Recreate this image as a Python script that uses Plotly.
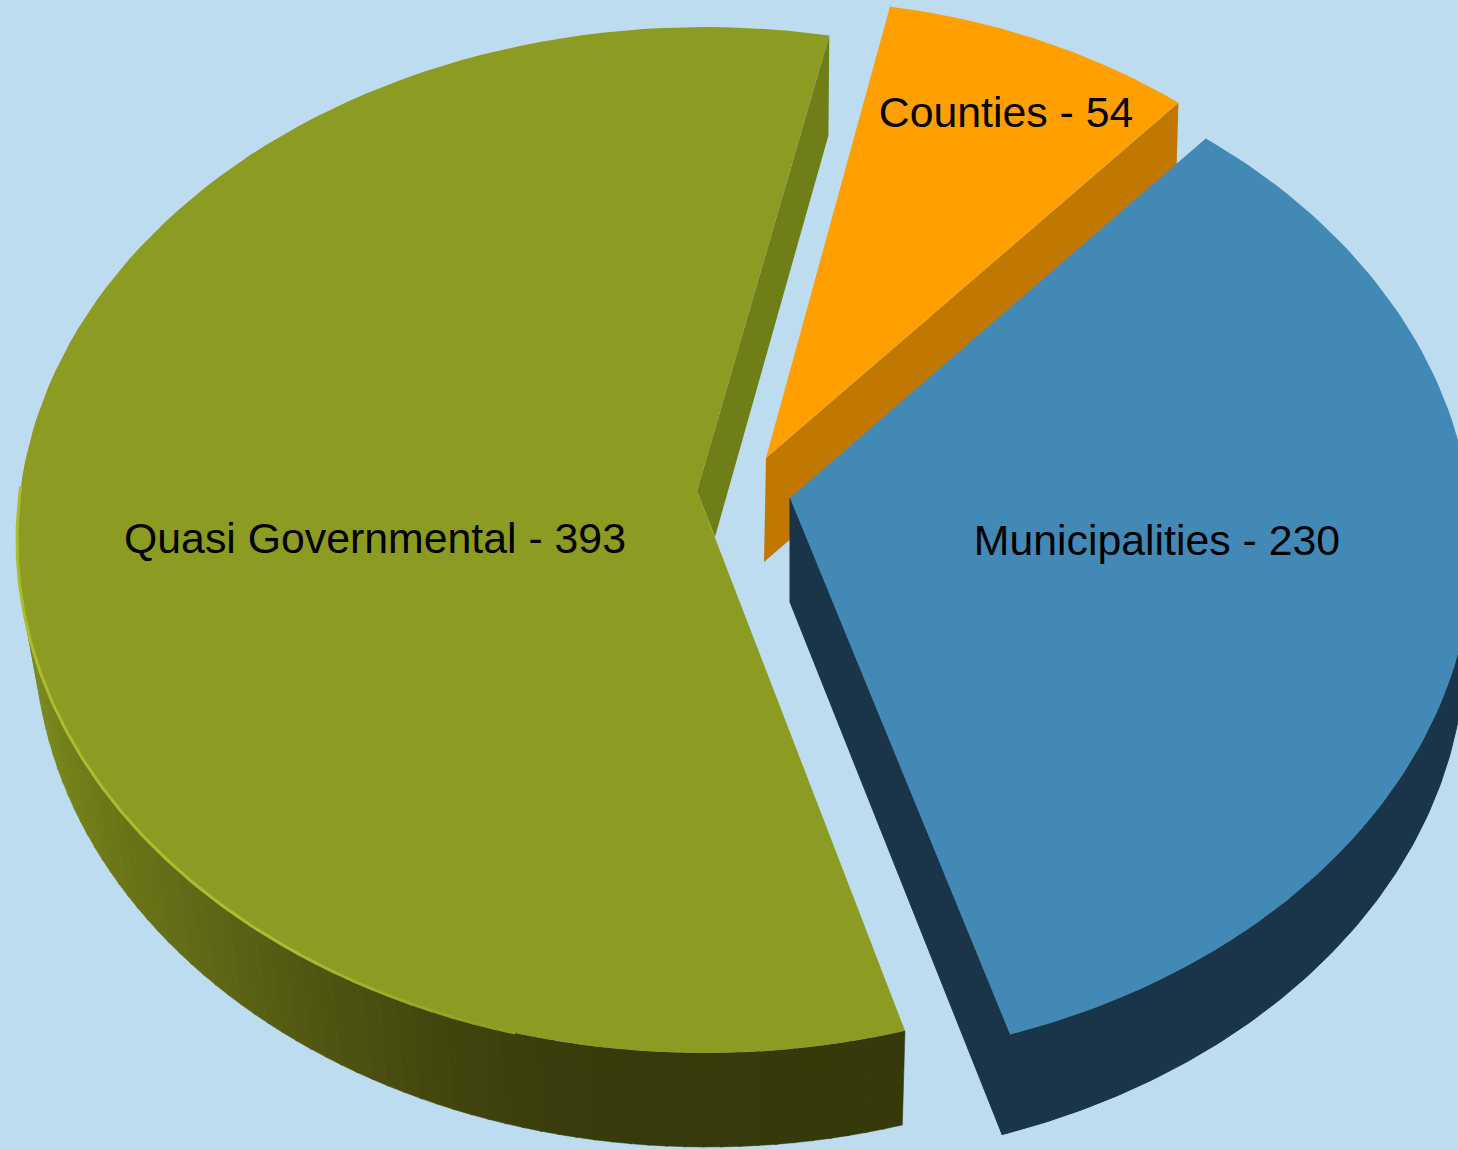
import math
import plotly.graph_objects as go

# ---- data ----
categories = ["Counties", "Municipalities", "Quasi Governmental"]
values = [54, 230, 393]

# ---- styling / projected geometry of each exploded slice ----
BG = "#bedcef"
TOP = ["#ffa000", "#4289b5", "#8c9b22"]
WALL = ["#c07800", "#1a3549", "#6f7e17"]
RIM = (172, 188, 48)
START = [9.5, 37.5, 163.1]
SWEEP_K = [1.0, 1.0114, 0.992]
TOP_ELL = [(785, 480, 636, 480), (790, 547, 683, 515), (705, 540, 688, 513)]
BOT_ELL = [(782, 584, 636, 480), (782, 647, 683, 515), (707, 637, 672, 510)]
APEX = [(766, 458), (790, 498), (697, 491)]
APEX_LOW = [(764, 562), (790, 602), (715, 537)]
LABEL_XY = [(1006, 116), (1157, 544), (375, 542)]
GRAD_X = [20, 100, 200, 300, 420, 520, 620, 910]
GRAD_C = [(122, 138, 30), (108, 120, 24), (95, 103, 22), (82, 87, 18), (68, 72, 14), (60, 63, 12), (55, 58, 11), (54, 57, 10)]

total = sum(values)


def ell(e, deg):
    a = math.radians(deg)
    return e[0] + e[2] * math.sin(a), e[1] - e[3] * math.cos(a)


def arc(e, a0, a1, n=120):
    pts = [ell(e, a0 + (a1 - a0) * i / n) for i in range(n + 1)]
    return [p[0] for p in pts], [p[1] for p in pts]


def poly(fig, xs, ys, color, lw=0.0):
    fig.add_trace(go.Scatter(
        x=xs + xs[:1], y=ys + ys[:1], mode="lines", fill="toself", fillcolor=color,
        line=dict(color=color, width=lw), hoverinfo="skip", showlegend=False))


def grad(x):
    if x <= GRAD_X[0]:
        c = GRAD_C[0]
    elif x >= GRAD_X[-1]:
        c = GRAD_C[-1]
    else:
        for i in range(len(GRAD_X) - 1):
            if GRAD_X[i] <= x <= GRAD_X[i + 1]:
                t = (x - GRAD_X[i]) / (GRAD_X[i + 1] - GRAD_X[i])
                c = tuple(GRAD_C[i][k] + (GRAD_C[i + 1][k] - GRAD_C[i][k]) * t for k in range(3))
                break
    return "rgb(%d,%d,%d)" % tuple(round(v) for v in c)


fig = go.Figure()

for i, v in enumerate(values):
    a0 = START[i]
    a1 = a0 + v / total * 360 * SWEEP_K[i]
    tx, ty = arc(TOP_ELL[i], a0, a1)
    if i == 0:  # Counties: only the inner radial wall is visible
        bx, by = ell(BOT_ELL[i], a1)
        poly(fig, [APEX[i][0], tx[-1], bx, APEX_LOW[i][0]],
             [APEX[i][1], ty[-1], by, APEX_LOW[i][1]], WALL[i])
    elif i == 1:  # Municipalities: outer wall and radial wall
        bx, by = arc(BOT_ELL[i], 92, a1)
        ux, uy = arc(TOP_ELL[i], 92, a1)
        poly(fig, ux + bx[::-1], uy + by[::-1], WALL[i], 1)
        poly(fig, [APEX[i][0], tx[-1], bx[-1], APEX_LOW[i][0]],
             [APEX[i][1], ty[-1], by[-1], APEX_LOW[i][1]], WALL[i], 1)
    else:  # Quasi Governmental: shaded outer wall, radial wall at the top
        n = 70
        end = 272.0
        for k in range(n):
            s0 = a0 + (end - a0) * k / n
            s1 = a0 + (end - a0) * (k + 1) / n + 0.2
            ux, uy = arc(TOP_ELL[i], s0, s1, 4)
            bx, by = arc(BOT_ELL[i], s0, s1, 4)
            poly(fig, ux + bx[::-1], uy + by[::-1], grad(sum(ux) / len(ux)), 0.5)
        bx0, by0 = ell(BOT_ELL[i], a1)
        poly(fig, [tx[-1], bx0, APEX_LOW[i][0], APEX[i][0]],
             [ty[-1], by0, APEX_LOW[i][1], APEX[i][1]], WALL[i])
    poly(fig, [APEX[i][0]] + tx, [APEX[i][1]] + ty, TOP[i])
    if i == 2:
        # lit rim along the lower left edge, fading out towards the front
        base = (140, 155, 34)
        steps = 12
        for k in range(steps):
            s0 = 196 + (218 - 196) * k / steps
            s1 = 196 + (218 - 196) * (k + 1) / steps + 0.1
            t = (k + 1) / steps
            col = "rgb(%d,%d,%d)" % tuple(round(base[j] + (RIM[j] - base[j]) * t) for j in range(3))
            rx, ry = arc(TOP_ELL[i], s0, s1, 6)
            fig.add_trace(go.Scatter(x=rx, y=ry, mode="lines", line=dict(color=col, width=3),
                                     hoverinfo="skip", showlegend=False))
        rx, ry = arc(TOP_ELL[i], 218, 276)
        fig.add_trace(go.Scatter(x=rx, y=ry, mode="lines",
                                 line=dict(color="rgb(%d,%d,%d)" % RIM, width=3),
                                 hoverinfo="skip", showlegend=False))

fig.add_trace(go.Scatter(
    x=[p[0] for p in LABEL_XY], y=[p[1] for p in LABEL_XY],
    text=[f"{c} - {v}" for c, v in zip(categories, values)],
    mode="text", textposition="middle center",
    textfont=dict(family="Liberation Sans", size=42.8, color="#000000"),
    hoverinfo="skip", showlegend=False))

fig.update_layout(
    width=1458, height=1149, margin=dict(l=0, r=0, t=0, b=0),
    paper_bgcolor=BG, plot_bgcolor=BG, showlegend=False,
    xaxis=dict(range=[0, 1458], visible=False, fixedrange=True),
    yaxis=dict(range=[1149, 0], visible=False, fixedrange=True),
)
fig.write_html(
    "out.html", config={"displayModeBar": False},
    post_script="document.documentElement.style.background='%s';"
                "document.documentElement.style.overflow='hidden';"
                "document.body.style.margin='0';document.body.style.overflow='hidden';" % BG)
